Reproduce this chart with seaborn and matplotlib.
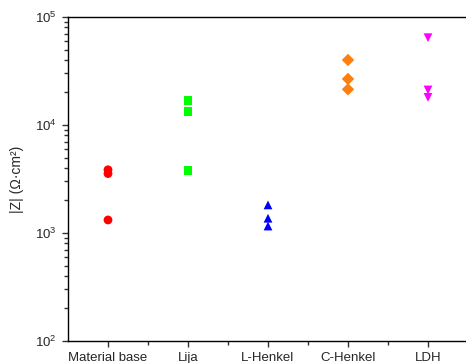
import pandas as pd
import matplotlib.pyplot as plt
import matplotlib.ticker as mticker
import numpy as np
import seaborn as sns

# Impedance modulus values
samples = ['Material base', 'Lija', 'L-Henkel', 'C-Henkel', 'LDH']
z_material_base = [3850, 3550, 1320]
z_lija = [17000, 13300, 3780]
z_l_henkel = [1820, 1370, 1160]
z_c_henkel = [40000, 26700, 21400]
z_ldh = [64300, 21100, 18000]

colors = {'Material base': '#ff0000', 'Lija': '#00ff00', 'L-Henkel': '#0000ff',
          'C-Henkel': '#ff7f0e', 'LDH': '#ff00ff'}
markers = {'Material base': 'o', 'Lija': 's', 'L-Henkel': '^',
           'C-Henkel': 'D', 'LDH': 'v'}

df = pd.DataFrame({
    'sample': np.repeat(samples, 3),
    'Z': z_material_base + z_lija + z_l_henkel + z_c_henkel + z_ldh,
})

sns.set_style('ticks')
plt.rcParams['font.family'] = ['Liberation Sans', 'DejaVu Sans']
plt.rcParams['mathtext.fontset'] = 'custom'
plt.rcParams['mathtext.rm'] = 'Liberation Sans'

fig = plt.figure(figsize=(4.66, 3.63), dpi=100)
ax = fig.add_axes([68 / 466, 22 / 363, 400 / 466, 324 / 363])

sns.scatterplot(data=df, x='sample', y='Z', hue='sample', style='sample',
                palette=colors, markers=markers, s=40, edgecolor='none',
                legend=False, ax=ax)

ax.set_yscale('log')
ax.set_ylim(1e2, 1e5)
ax.set_xlim(-0.5, 4.5)
ax.set_xticks(range(len(samples)))
ax.set_xticklabels(samples)
ax.set_xticks([0.5, 1.5, 2.5, 3.5], minor=True)
minor_y = [m * 10 ** e for e in (2, 3, 4) for m in range(2, 10)]
ax.set_yticks(minor_y, minor=True)
ax.yaxis.set_minor_formatter(mticker.NullFormatter())

ax.set_xlabel('')
ax.set_ylabel('|Z| (Ω·cm²)', fontsize=10, labelpad=8)
ax.tick_params(axis='both', which='major', labelsize=9.5, length=4.5, width=1,
               direction='out', color='#333333')
ax.tick_params(axis='both', which='minor', length=3, width=1,
               direction='out', color='#333333', left=True, bottom=True)
for side in ['left', 'bottom', 'top', 'right']:
    ax.spines[side].set_visible(True)
    ax.spines[side].set_linewidth(1)
    ax.spines[side].set_color('black')

fig.savefig('out.png', dpi=100)
